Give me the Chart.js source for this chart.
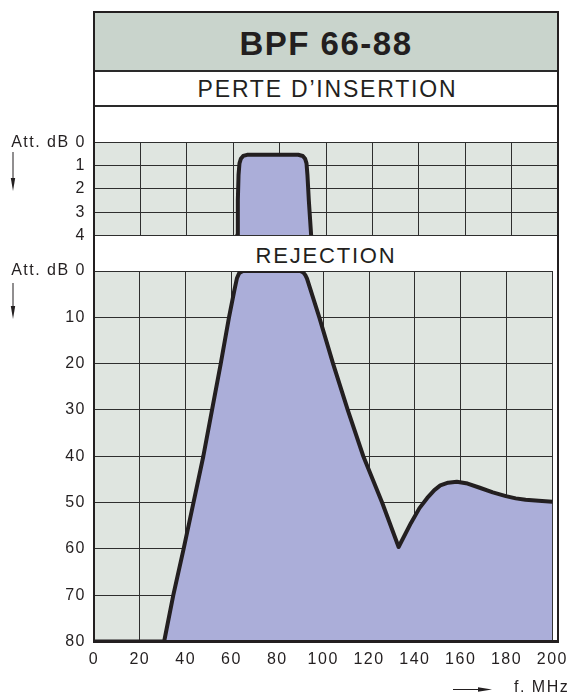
<!DOCTYPE html>
<html>
<head>
<meta charset="utf-8">
<script src="https://cdn.jsdelivr.net/npm/chart.js@4.4.1/dist/chart.umd.min.js"></script>
<style>
html,body{margin:0;padding:0;background:#fff;}
#wrap{position:relative;width:576px;height:693px;overflow:hidden;background:#fff;font-family:"Liberation Sans",Arial,Helvetica,sans-serif;color:#231f20;}
.band{position:absolute;left:94px;width:464px;text-align:center;white-space:nowrap;}
#title{top:12px;height:59px;background:#c9d4cc;font-weight:bold;font-size:33px;letter-spacing:1.5px;line-height:64px;}
#perte{top:71px;height:35px;font-size:23px;letter-spacing:1.8px;line-height:37px;padding-left:3px;box-sizing:border-box;}
#rej{top:236px;height:35px;font-size:22px;letter-spacing:1.8px;line-height:40px;}
.sep{position:absolute;left:94px;width:464px;background:#2a2a2a;z-index:5;}
#frame{position:absolute;left:93px;top:11px;width:466px;height:632px;box-sizing:border-box;border:2px solid #231f20;border-bottom-width:3px;z-index:6;pointer-events:none;}
canvas{position:absolute;left:0;}
#c1wrap{position:absolute;left:0;top:120px;width:576px;height:135px;z-index:2;}
#c2wrap{position:absolute;left:0;top:250px;width:576px;height:443px;z-index:3;}
#fmhz{position:absolute;left:514px;top:678px;font-size:16px;letter-spacing:1.5px;line-height:18px;white-space:nowrap;z-index:7;}
svg{position:absolute;left:0;top:0;z-index:7;}
</style>
</head>
<body>
<div id="wrap">
  <div class="band" id="title">BPF 66-88</div>
  <div class="band" id="perte">PERTE D’INSERTION</div>
  <div class="band" id="rej">REJECTION</div>
  <div class="sep" style="top:70px;height:2px;"></div>
  <div class="sep" style="top:105px;height:2px;"></div>
  <div id="c1wrap"><canvas id="c1" width="576" height="135"></canvas></div>
  <div id="c2wrap"><canvas id="c2" width="576" height="443"></canvas></div>
  <div id="frame"></div>
  <div id="fmhz">f. MHz</div>
  <svg width="576" height="693">
    <line x1="13" y1="152" x2="13" y2="180" stroke="#231f20" stroke-width="1"/>
    <polygon points="10.8,178 15.2,178 13,191" fill="#231f20"/>
    <line x1="13" y1="283" x2="13" y2="308" stroke="#231f20" stroke-width="1"/>
    <polygon points="10.8,306 15.2,306 13,319" fill="#231f20"/>
    <line x1="453" y1="689.5" x2="480" y2="689.5" stroke="#231f20" stroke-width="1"/>
    <polygon points="478,687.3 478,691.7 492,689.5" fill="#231f20"/>
  </svg>
</div>
<script>
// ---- data ----
const xTickValues = [0, 20, 40, 60, 80, 100, 120, 140, 160, 180, 200];
const insTickValues = [0, 1, 2, 3, 4];
const rejTickValues = [0, 10, 20, 30, 40, 50, 60, 70, 80];

// Insertion loss (dB) vs frequency (MHz)
const insFreq = [61.7, 62.0, 62.3, 62.7, 63.3, 64.3, 66.0, 88.0, 90.0, 91.0, 91.6, 92.0, 92.6, 93.6];
const insAtt  = [4.0, 2.5, 1.4, 0.9, 0.7, 0.58, 0.53, 0.53, 0.58, 0.7, 0.9, 1.4, 2.5, 4.0];

// Rejection (dB) vs frequency (MHz)
const rejFreq = [0, 30.6, 34.6, 39.1, 43.4, 47.7, 51.5, 55.3, 58.9, 61.3, 62.4, 63.4, 65.0, 90.0, 91.3, 92.2, 92.9,
                 98.3, 104.3, 110.7, 117.5, 125.7, 132.9, 138.3, 142.0, 145.4, 148.5, 151.1, 154.5, 158.3,
                 163.0, 168.3, 174.0, 179.7, 184.0, 188.3, 194.0, 200.0];
const rejAtt  = [80, 80, 70, 60, 50, 40, 30, 20, 10, 4, 1.5, 0.4, 0, 0, 0.3, 0.9, 1.6,
                 10, 20, 30, 40, 50, 59.6, 54.4, 51.2, 49.0, 47.3, 46.3, 45.7, 45.5,
                 45.9, 46.8, 47.8, 48.6, 49.1, 49.4, 49.6, 49.8];

// ---- styling ----
const INK = '#231f20';
const GRID = '#2e2e2e';
const PLOT_BG = '#dfe5e0';
const FILL = '#abaed9';
const FONT = { family: '"Liberation Sans", Arial, Helvetica, sans-serif', size: 16 };

const bgPlugin = {
  id: 'plotbg',
  beforeUpdate(c) { c.ctx.letterSpacing = '1.5px'; },
  beforeDraw(c) {
    const { ctx, chartArea: a } = c;
    ctx.letterSpacing = '1.5px';
    ctx.save();
    ctx.fillStyle = PLOT_BG;
    ctx.fillRect(a.left, a.top, a.right - a.left, a.bottom - a.top);
    ctx.restore();
  }
};

function toPoints(xs, ys) { return xs.map((x, i) => ({ x: x, y: ys[i] })); }

function makeChart(id, xs, ys, yMax, yTicks, showX, pad, xHeight) {
  return new Chart(document.getElementById(id), {
    type: 'line',
    data: {
      datasets: [{
        data: toPoints(xs, ys),
        borderColor: INK,
        borderWidth: 4,
        borderJoinStyle: 'round',
        borderCapStyle: 'round',
        backgroundColor: FILL,
        fill: { value: yMax },
        pointRadius: 0,
        tension: 0
      }]
    },
    options: {
      responsive: false,
      animation: false,
      devicePixelRatio: 1,
      layout: { padding: pad },
      plugins: { legend: { display: false }, tooltip: { enabled: false } },
      scales: {
        x: {
          type: 'linear', min: 0, max: 200, z: 1,
          afterBuildTicks: s => { s.ticks = xTickValues.map(v => ({ value: v })); },
          afterFit: s => { s.height = xHeight; },
          grid: { color: GRID, lineWidth: 1, drawTicks: false },
          border: { display: false },
          ticks: { display: showX, color: INK, font: FONT, padding: 8, maxRotation: 0, autoSkip: false }
        },
        y: {
          type: 'linear', min: 0, max: yMax, reverse: true, z: 1,
          afterBuildTicks: s => { s.ticks = yTicks.map(v => ({ value: v })); },
          afterFit: s => { s.width = 94; },
          grid: { color: GRID, lineWidth: 1, drawTicks: false },
          border: { display: false },
          ticks: {
            color: INK, font: FONT, padding: 8, autoSkip: false,
            callback: v => (v === 0 ? 'Att. dB 0' : String(v))
          }
        }
      }
    },
    plugins: [bgPlugin]
  });
}

makeChart('c1', insFreq, insAtt, 4, insTickValues, false, { top: 22.5, bottom: 19.7, left: 0, right: 18 }, 0);
makeChart('c2', rejFreq, rejAtt, 80, rejTickValues, true, { top: 21, bottom: 21.5, left: 0, right: 18 }, 30);
</script>
</body>
</html>
